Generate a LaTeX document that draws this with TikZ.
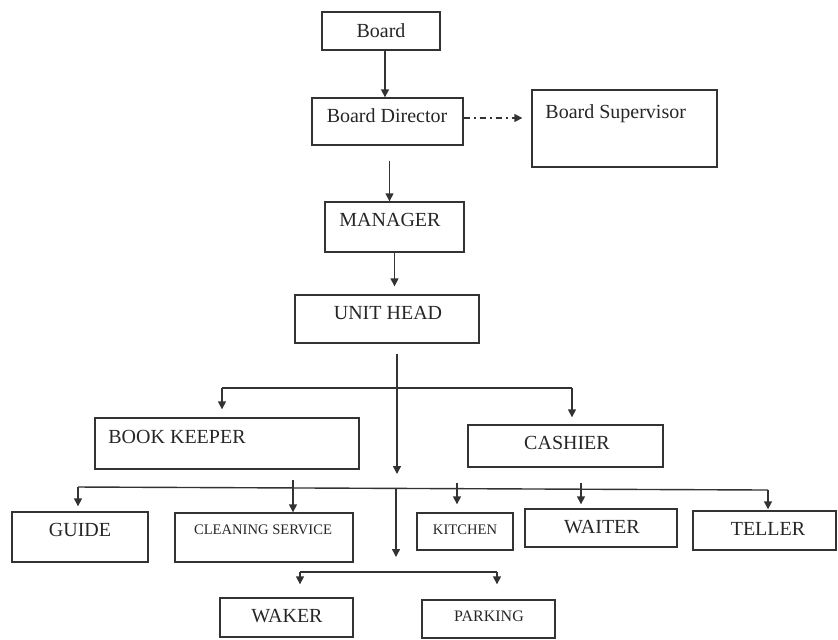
\documentclass[tikz,border=0pt]{standalone}
\usepackage{fontspec}
\setmainfont{Liberation Serif}
\usetikzlibrary{arrows.meta,fit,calc}
\begin{document}
\begin{tikzpicture}[x=0.5pt,y=-0.5pt,
  box/.style={draw=black!80, line width=0.7pt, inner sep=0pt},
  txt/.style={inner sep=0pt, text height=6.6pt, text depth=0pt, font=\fontsize{10}{12}\selectfont, text=black!85},
  small/.style={txt, font=\fontsize{7.3}{9}\selectfont, text height=4.8pt},
  wire/.style={draw=black!80, line width=0.7pt},
  arr/.style={wire, -{Triangle[length=4pt,width=4pt]}},
]
\useasboundingbox (0,0) rectangle (838,639);

% boxes
\node[box, fit={(322,12) (440,50)}] (board) {};
\node[box, fit={(312,98) (463,145)}] (bd) {};
\node[box, fit={(532,90) (717,167)}] (bs) {};
\node[box, fit={(325,202) (464,252)}] (mgr) {};
\node[box, fit={(295,295) (479,343)}] (uh) {};
\node[box, fit={(95,418) (359,469)}] (bk) {};
\node[box, fit={(468,425) (663,467)}] (cash) {};
\node[box, fit={(12,512) (148,562)}] (guide) {};
\node[box, fit={(175,513) (353,562)}] (clean) {};
\node[box, fit={(417,513) (513,550)}] (kit) {};
\node[box, fit={(525,509) (677,547)}] (wait) {};
\node[box, fit={(693,511) (836,550)}] (tell) {};
\node[box, fit={(220,598) (353,637)}] (waker) {};
\node[box, fit={(422,600) (555,638)}] (park) {};

% texts
\node[txt] (tboard) at (381,31) {Board};
\node[txt] (tbd) at (387,116) {Board Director};
\node[txt, anchor=west] (tbs) at (545,112) {Board Supervisor};
\node[txt] (tmgr) at (390,220) {MANAGER};
\node[txt] (tuh) at (388,313) {UNIT HEAD};
\node[txt, anchor=west] (tbk) at (108,437) {BOOK KEEPER};
\node[txt] (tcash) at (567,443) {CASHIER};
\node[txt] (tguide) at (80,530) {GUIDE};
\node[small] (tclean) at (263,530) {CLEANING SERVICE};
\node[small] (tkit) at (465,530) {KITCHEN};
\node[txt] (twait) at (602,527) {WAITER};
\node[txt] (ttell) at (768,529) {TELLER};
\node[txt] (twaker) at (287,616) {WAKER};
\node[small, font=\fontsize{8}{10}\selectfont, text height=5.3pt] (tpark) at (489,616) {PARKING};

% connectors
\coordinate (a1) at ($(board.south)+(4,0)$);
\draw[arr] (a1) -- (a1 |- bd.north);

\coordinate (d0) at ($(bd.east)+(0,-3.5)$);
\draw[arr, dash pattern=on 3pt off 2pt on 1pt off 2pt, shorten >=4.5pt] (d0) -- (d0 -| bs.west);

\coordinate (m0) at ($(bd.south)+(2,15)$);
\draw[arr] (m0) -- (m0 |- mgr.north);

\draw[arr, shorten >=4pt] (mgr.south) -- (mgr.south |- uh.north);

\coordinate (t0) at ($(uh.south)+(10,10)$);
\coordinate (t1) at (397,474);
\coordinate (h1l) at (222,388);
\coordinate (h1r) at (572,388);
\draw[wire] (h1l) -- (h1r);
\draw[arr, shorten >=4pt] (h1l) -- (h1l |- bk.north);
\draw[arr, shorten >=3.5pt] (h1r) -- (h1r |- cash.north);
\draw[arr] (t0) -- (t1);

\coordinate (h2l) at (78,487);
\coordinate (h2r) at (768,490);
\draw[wire] (h2l) -- (h2r);
\draw[arr, shorten >=2.5pt] (h2l) -- (h2l |- guide.north);
\draw[arr, shorten >=0.5pt] (h2r) -- (h2r |- tell.north);
\coordinate (c2) at (293,480);
\draw[arr] (c2) -- (c2 |- clean.north);
\coordinate (k2) at (457,483);
\draw[arr, shorten >=4pt] (k2) -- (k2 |- kit.north);
\coordinate (w2) at (581,483);
\draw[arr, shorten >=2pt] (w2) -- (w2 |- wait.north);

\coordinate (t2) at (396,488);
\coordinate (t3) at (396,557);
\draw[arr] (t2) -- (t3);

\coordinate (h3l) at (300,572);
\coordinate (h3r) at (497,572);
\draw[wire] (h3l) -- (h3r);
\draw[arr, shorten >=6.5pt] (h3l) -- (h3l |- waker.north);
\draw[arr, shorten >=7.5pt] (h3r) -- (h3r |- park.north);
\end{tikzpicture}
\end{document}
